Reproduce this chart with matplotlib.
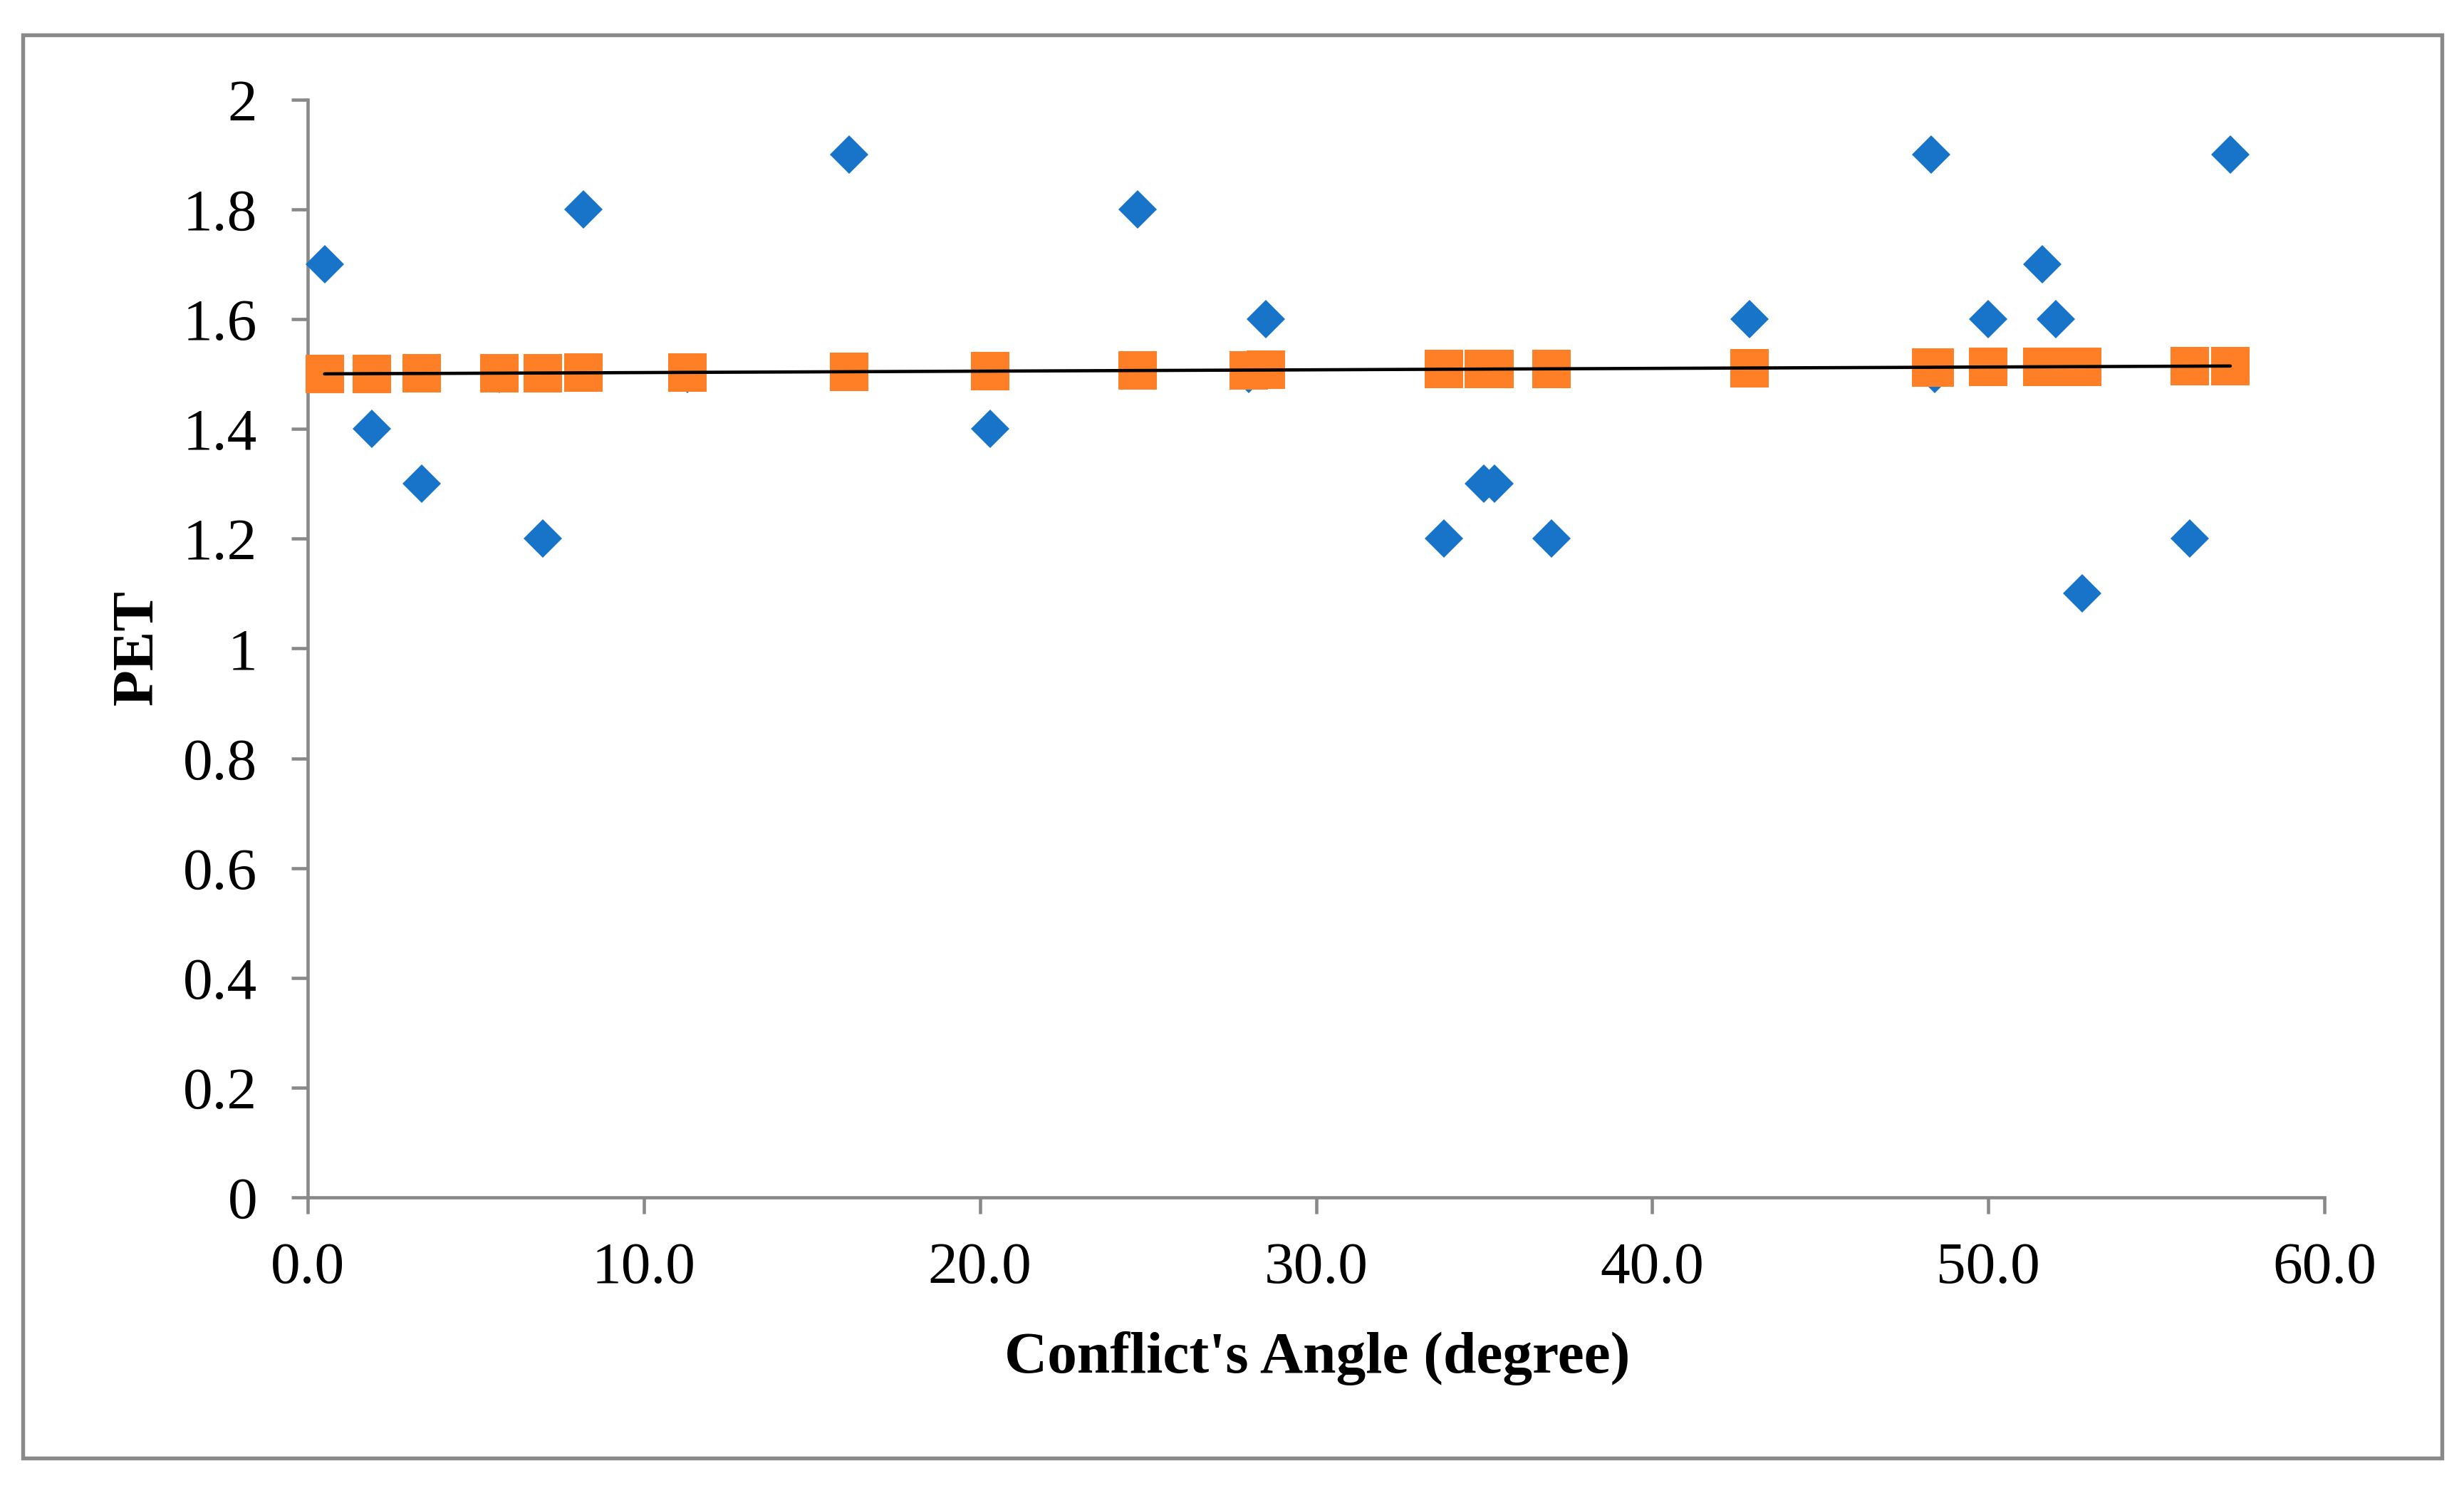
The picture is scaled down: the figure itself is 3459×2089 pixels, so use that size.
# PET vs Conflict's Angle scatter with fitted values
# ==============================
# Import Libraries
# ==============================

import matplotlib
matplotlib.use("Agg")
import matplotlib.pyplot as plt
from matplotlib.patches import Rectangle
from matplotlib.ticker import FormatStrFormatter, MultipleLocator

plt.rcParams['font.family'] = ['Liberation Serif', 'DejaVu Serif']

# ==============================
# Data
# ==============================

# Conflict's angle (degree)
angle = [0.5, 1.9, 3.4, 5.7, 7.0, 8.2, 11.3, 16.1, 20.3, 24.7, 28.0, 28.5,
         33.8, 35.0, 35.3, 37.0, 42.9, 48.3, 48.4, 50.0, 51.6, 52.0, 52.8,
         56.0, 57.2]

# Observed PET (blue diamonds)
pet_observed = [1.7, 1.4, 1.3, 1.5, 1.2, 1.8, 1.5, 1.9, 1.4, 1.8, 1.5, 1.6,
                1.2, 1.3, 1.3, 1.2, 1.6, 1.9, 1.5, 1.6, 1.7, 1.6, 1.1,
                1.2, 1.9]

# Predicted PET (orange squares / black line)
pet_predicted = [1.5005, 1.5009, 1.5012, 1.5018, 1.5021, 1.5024, 1.5032,
                 1.5044, 1.5055, 1.5066, 1.5074, 1.5075, 1.5089, 1.5092,
                 1.5093, 1.5097, 1.5112, 1.5125, 1.5126, 1.5130, 1.5134,
                 1.5135, 1.5137, 1.5145, 1.5148]

x_ticks = [0, 10, 20, 30, 40, 50, 60]

# ==============================
# Plot
# ==============================

W, H = 3459, 2089
fig = plt.figure(figsize=(W / 300, H / 300), dpi=300)
ax = fig.add_axes([432 / W, 1 - 1681 / H, (3263 - 432) / W, (1681 - 140) / H])

grey = '#898989'

ax.plot(angle, pet_observed, linestyle='none', marker='D', markersize=9.2,
        color='#1874C8', markeredgewidth=0, zorder=3, clip_on=False)
ax.plot(angle, pet_predicted, linestyle='none', marker='s', markersize=13,
        color='#FF7F27', markeredgewidth=0, zorder=4, clip_on=False)
ax.plot(angle, pet_predicted, color='black', linewidth=1.1,
        solid_capstyle='round', zorder=5, clip_on=False)

ax.set_xlim(0, 60)
ax.set_ylim(0, 2)
ax.set_xticks(x_ticks)
ax.xaxis.set_major_formatter(FormatStrFormatter('%.1f'))
ax.yaxis.set_major_locator(MultipleLocator(0.2))
ax.yaxis.set_major_formatter(lambda v, pos: '%g' % round(v, 1))

for side in ['top', 'right']:
    ax.spines[side].set_visible(False)
for side in ['left', 'bottom']:
    ax.spines[side].set_color(grey)
    ax.spines[side].set_linewidth(1.1)

ax.tick_params(axis='both', direction='out', length=5.5, width=1.1,
               color=grey, labelsize=20, labelcolor='black')
ax.tick_params(axis='y', pad=11.5)
ax.tick_params(axis='x', pad=9.5)

# axis titles
fig.text(1849 / W, 1 - 1927 / H, "Conflict's Angle (degree)", ha='center',
         va='baseline', fontsize=20, fontweight='bold')
fig.text(194 / W, 1 - 909 / H, "PET", ha='center', va='center', rotation=90,
         fontsize=20, fontweight='bold')

# chart border
fig.patches.append(Rectangle((32 / W, 1 - 2047 / H), (3428 - 32) / W,
                             (2047 - 49) / H, transform=fig.transFigure,
                             fill=False, edgecolor=grey, linewidth=1.3))

fig.savefig("out.png", dpi=300)
